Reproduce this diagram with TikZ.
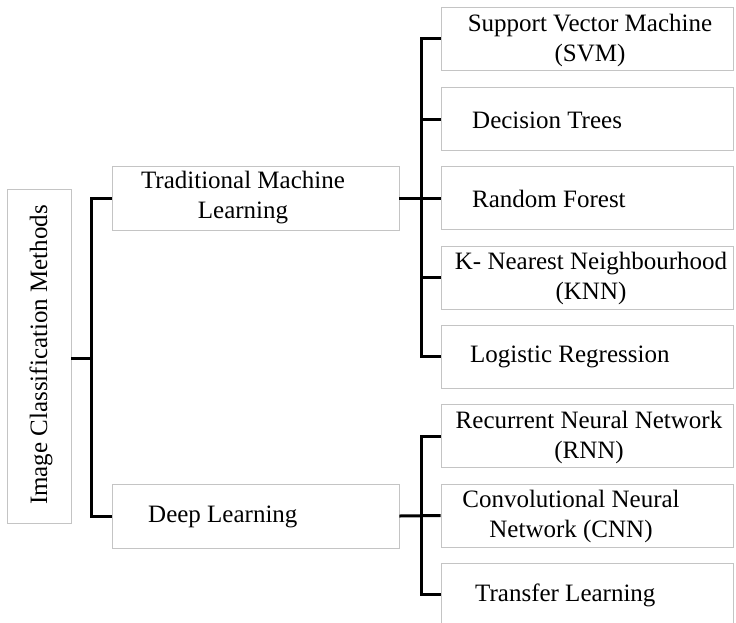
\documentclass[tikz,border=0pt]{standalone}
\usepackage{fontspec}
\setmainfont{Liberation Serif}
\definecolor{boxgray}{HTML}{C4C4C4}
\tikzset{
  box/.style={draw=boxgray, line width=0.9pt, fill=white, inner sep=0pt},
  leafbox/.style={box, minimum width=292pt, minimum height=63pt},
  midbox/.style={box, minimum width=287pt, minimum height=64pt},
  txt/.style={inner sep=0pt, font=\fontsize{25}{30}\selectfont, align=center},
  txtl/.style={txt, anchor=west},
  link/.style={line width=3pt, black, line join=miter}
}
\begin{document}
\begin{tikzpicture}[x=1pt, y=-1pt]
\useasboundingbox (0,0) rectangle (736,622);

% root box with vertical title
\node[box, minimum width=64pt, minimum height=334pt] (root) at (39,356) {};
\node[txt, rotate=90] (roottxt) at (41,355) {Image Classification Methods};

% second level
\node[midbox] (tml) at (255.5,198) {};
\node[txt] (tmltxt) at (243,198) {Traditional Machine\\Learning};
\node[midbox] (dl) at (255.5,516) {};
\node[txtl] (dltxt) at (148,517) {Deep Learning};

% leaves of traditional machine learning
\node[leafbox] (svm) at (587,38.5) {};
\node[txt] (svmtxt) at (590,40) {Support Vector Machine\\(SVM)};
\node[leafbox] (dt) at (587,119) {};
\node[txtl] (dttxt) at (472,120) {Decision Trees};
\node[leafbox] (rf) at (587,198) {};
\node[txtl] (rftxt) at (472,199) {Random Forest};
\node[leafbox] (knn) at (587,277.5) {};
\node[txt] (knntxt) at (591,278) {K- Nearest Neighbourhood\\(KNN)};
\node[leafbox] (lr) at (587,356.5) {};
\node[txtl] (lrtxt) at (470,357) {Logistic Regression};

% leaves of deep learning
\node[leafbox] (rnn) at (587,436) {};
\node[txt] (rnntxt) at (589,437) {Recurrent Neural Network\\(RNN)};
\node[leafbox] (cnn) at (587,515.5) {};
\node[txt] (cnntxt) at (571,516) {Convolutional Neural\\Network (CNN)};
\node[leafbox] (tl) at (587,594.5) {};
\node[txtl] (tltxt) at (475,595) {Transfer Learning};

% junction points of the trunks
\coordinate (j0) at (91,358);
\coordinate (j1) at (421,198);
\coordinate (j2) at (421,516);

% connectors
\draw[link] (root.east |- j0) -- (j0);
\draw[link] (tml.west) -| (j0);
\draw[link] (dl.west) -| (j0);

\draw[link] (tml.east) -- (rf.west);
\draw[link] (svm.west) -| (j1);
\draw[link] (dt.west) -| (j1);
\draw[link] (knn.west) -| (j1);
\draw[link] (lr.west) -| (j1);

\draw[link] (dl.east) -- (cnn.west);
\draw[link] (rnn.west) -| (j2);
\draw[link] (tl.west) -| (j2);
\end{tikzpicture}
\end{document}
